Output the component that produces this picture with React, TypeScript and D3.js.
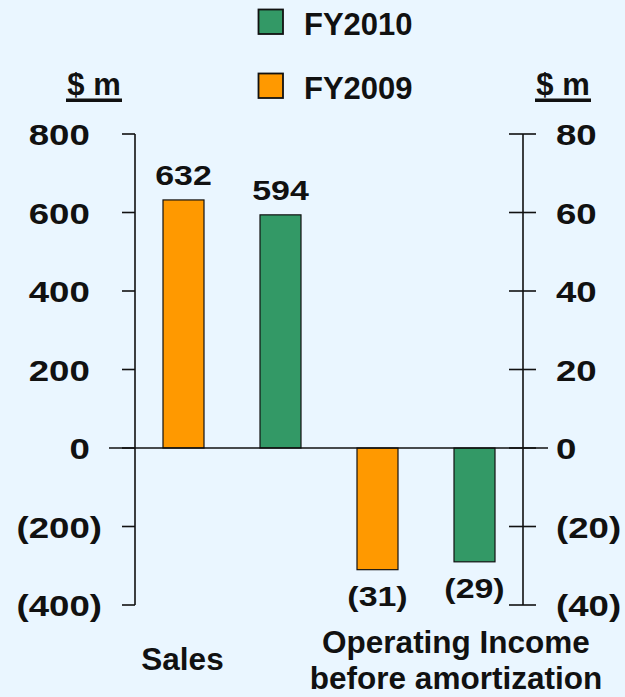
import React from "react";
import * as d3 from "d3";

const categories = ["Sales", "Operating Income before amortization"];
const series = ["FY2009", "FY2010"];
const salesValues = [632, 594];
const opIncomeValues = [-31, -29];
const leftTicks = [800, 600, 400, 200, 0, -200, -400];
const rightTicks = [80, 60, 40, 20, 0, -20, -40];
const seriesColors = ["#FF9900", "#339966"];
const legendOrder = ["FY2010", "FY2009"];

const W = 625;
const H = 697;
const BG = "#EAF6FF";
const INK = "#111111";
const FONT = "'Liberation Sans', Arial, Helvetica, sans-serif";

const fmt = (v: number) => (v < 0 ? `(${-v})` : `${v}`);

export default function App() {
  const top = 134;
  const bottom = 605;
  const axL = 135;
  const axR = 523;
  const yL = d3.scaleLinear().domain([-400, 800]).range([bottom, top]);
  const yR = d3.scaleLinear().domain([-40, 80]).range([bottom, top]);
  const xCat = d3.scaleBand().domain(categories).range([axL, axR]);
  const xSer = d3.scalePoint().domain(series).range([0, xCat.bandwidth()]).padding(0.5);
  const barW = 41;
  const zeroY = yL(0);

  const bars: { cx: number; v: number; y: number; color: string }[] = [];
  categories.forEach((c, ci) => {
    const vals = ci === 0 ? salesValues : opIncomeValues;
    const sc = ci === 0 ? yL : yR;
    series.forEach((s, si) => {
      const cx = (xCat(c) as number) + (xSer(s) as number);
      bars.push({ cx, v: vals[si], y: sc(vals[si]), color: seriesColors[si] });
    });
  });

  const tickFs = 30;
  const tickSx = 1.22;
  const parenW = 0.333 * tickFs * tickSx;
  const oiX = (xCat(categories[1]) as number) + xCat.bandwidth() / 2 + 30;

  return (
    <svg
      width={W}
      height={H}
      style={{ position: "absolute", left: 0, top: 0 }}
      fontFamily={FONT}
      fontWeight="bold"
    >
      <rect x={0} y={0} width={W} height={H} fill={BG} />

      {/* Legend */}
      {legendOrder.map((s, i) => {
        const color = seriesColors[series.indexOf(s)];
        const y0 = 9 + i * 64;
        return (
          <g key={s}>
            <rect x={258.5} y={y0 + 0.5} width={24.5} height={24.5} fill={color} stroke={INK} strokeWidth={1.8} />
            <text x={304} y={y0 + 26} fontSize={31} fill={INK}>
              {s}
            </text>
          </g>
        );
      })}

      {/* Unit labels */}
      {[94, 563].map((cx, i) => (
        <g key={i}>
          <text x={cx} y={95} fontSize={31} textAnchor="middle" fill={INK}>
            $ m
          </text>
          <rect x={cx - 28} y={98.5} width={56} height={3.5} fill={INK} />
        </g>
      ))}

      {/* Bars */}
      {bars.map((b, i) => (
        <rect
          key={i}
          x={b.cx - barW / 2}
          y={Math.min(b.y, zeroY)}
          width={barW}
          height={Math.abs(zeroY - b.y)}
          fill={b.color}
          stroke={INK}
          strokeWidth={1.2}
        />
      ))}

      {/* Zero line */}
      <line x1={109} x2={548} y1={zeroY} y2={zeroY} stroke={INK} strokeWidth={1.6} />

      {/* Left axis */}
      <line x1={axL} x2={axL} y1={top} y2={bottom} stroke={INK} strokeWidth={1.6} />
      {leftTicks.map((t) => (
        <g key={t}>
          <line x1={axL - 13} x2={axL} y1={yL(t)} y2={yL(t)} stroke={INK} strokeWidth={1.6} />
          <text
            transform={`translate(${t < 0 ? 102 : 102 - parenW},${yL(t) + 11}) scale(${tickSx},1)`}
            fontSize={tickFs}
            textAnchor="end"
            fill={INK}
          >
            {fmt(t)}
          </text>
        </g>
      ))}

      {/* Right axis */}
      <line x1={axR} x2={axR} y1={top} y2={bottom} stroke={INK} strokeWidth={1.6} />
      {rightTicks.map((t) => (
        <g key={t}>
          <line x1={axR - 14} x2={axR + 13} y1={yR(t)} y2={yR(t)} stroke={INK} strokeWidth={1.6} />
          <text
            transform={`translate(556,${yR(t) + 11}) scale(${tickSx},1)`}
            fontSize={tickFs}
            textAnchor="start"
            fill={INK}
          >
            {fmt(t)}
          </text>
        </g>
      ))}

      {/* Data labels */}
      {bars.map((b, i) => (
        <text
          key={i}
          transform={`translate(${b.cx},${b.v >= 0 ? b.y - 15 : b.y + 36}) scale(1.19,1)`}
          fontSize={28.5}
          textAnchor="middle"
          fill={INK}
        >
          {fmt(b.v)}
        </text>
      ))}

      {/* Category labels */}
      <text x={(xCat(categories[0]) as number) + (xSer(series[0]) as number) - 1} y={670} fontSize={31.5} textAnchor="middle" fill={INK}>
        Sales
      </text>
      <text x={oiX} y={653} fontSize={31.5} textAnchor="middle" fill={INK}>
        <tspan x={oiX}>Operating Income</tspan>
        <tspan x={oiX} dy={36}>
          before amortization
        </tspan>
      </text>
    </svg>
  );
}
